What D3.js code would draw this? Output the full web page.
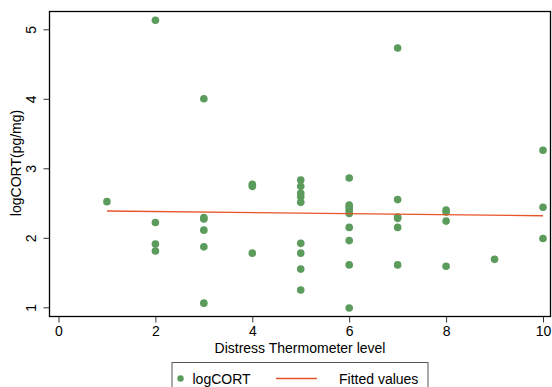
<!DOCTYPE html>
<html><head><meta charset="utf-8">
<script src="https://cdn.jsdelivr.net/npm/d3@7"></script>
<style>body{margin:0;background:#fff}svg{display:block;font-family:"Liberation Sans",Arial,sans-serif}</style>
</head><body><svg id="c" width="552" height="387"></svg>
<script>
const dtLevel = [1,2,2,2,2,3,3,3,3,3,3,4,4,4,5,5,5,5,5,5,5,5,5,6,6,6,6,6,6,6,6,6,7,7,7,7,7,7,8,8,8,8,9,10,10,10];
const logCORT = [2.52,5.13,2.22,1.91,1.81,4.00,2.29,2.27,2.11,1.87,1.06,2.77,2.74,1.78,2.83,2.74,2.64,2.59,2.51,1.92,1.78,1.55,1.25,2.86,2.47,2.43,2.39,2.35,2.15,1.96,1.61,0.99,4.73,2.55,2.30,2.28,2.15,1.61,2.40,2.37,2.24,1.59,1.69,3.26,2.44,1.99];
const fitX = [1,10];
const fitY = [2.385,2.318];
const xTicks = [0,2,4,6,8,10];
const yTicks = [1,2,3,4,5];

const svg = d3.select("#c");
const L=49.5,R=550.5,T=11.5,B=316.5;
const x = d3.scaleLinear().domain([0,10]).range([58.5,543]);
const y = d3.scaleLinear().domain([1,5]).range([307.3,29.3]);

// x axis
const xa = svg.append("g").attr("transform",`translate(0,${B})`)
  .call(d3.axisBottom(x).tickValues(xTicks).tickSize(6).tickPadding(4).tickFormat(d3.format("d")));
xa.select(".domain").remove();
xa.selectAll("line").attr("stroke","#333");
xa.selectAll("text").attr("font-size","14px").attr("fill","#000").attr("font-family","Liberation Sans, Arial, sans-serif");

// y axis
const ya = svg.append("g").attr("transform",`translate(${L},0)`)
  .call(d3.axisLeft(y).tickValues(yTicks).tickSize(6).tickPadding(4).tickFormat(d3.format("d")));
ya.select(".domain").remove();
ya.selectAll("line").attr("stroke","#333");
ya.selectAll("text").attr("font-size","14px").attr("fill","#000").attr("font-family","Liberation Sans, Arial, sans-serif")
  .attr("transform",null).attr("x",null).attr("dy",null)
  .attr("text-anchor","middle")
  .attr("transform","translate(-14,0) rotate(-90)").attr("y",0);

// frame
svg.append("rect").attr("x",L).attr("y",T).attr("width",R-L).attr("height",B-T)
  .attr("fill","none").attr("stroke","#000").attr("stroke-width",1.3);

// points
svg.append("g").selectAll("circle").data(dtLevel.map((d,i)=>[d,logCORT[i]])).join("circle")
  .attr("cx",d=>x(d[0])).attr("cy",d=>y(d[1])).attr("r",3.8).attr("fill","#5b9b5b");

// fitted line
svg.append("path").datum(fitX.map((d,i)=>[d,fitY[i]]))
  .attr("d",d3.line().x(d=>x(d[0])).y(d=>y(d[1])))
  .attr("stroke","#e8532b").attr("stroke-width",1.4).attr("fill","none");

// titles
svg.append("text").attr("x",300).attr("y",353).attr("text-anchor","middle").attr("font-size","14px").text("Distress Thermometer level");
svg.append("text").attr("transform","translate(21,163) rotate(-90)").attr("text-anchor","middle").attr("font-size","14px").text("logCORT(pg/mg)");

// legend
svg.append("rect").attr("x",172).attr("y",362.5).attr("width",256).attr("height",40)
  .attr("fill","#fff").attr("stroke","#555").attr("stroke-width",1);
svg.append("circle").attr("cx",180.5).attr("cy",378.5).attr("r",3.2).attr("fill","#5b9b5b");
svg.append("text").attr("x",192.5).attr("y",384).attr("font-size","14px").text("logCORT");
svg.append("line").attr("x1",276).attr("x2",317).attr("y1",378.5).attr("y2",378.5).attr("stroke","#e8532b").attr("stroke-width",1.4);
svg.append("text").attr("x",339).attr("y",384).attr("font-size","14px").text("Fitted values");
</script></body></html>
